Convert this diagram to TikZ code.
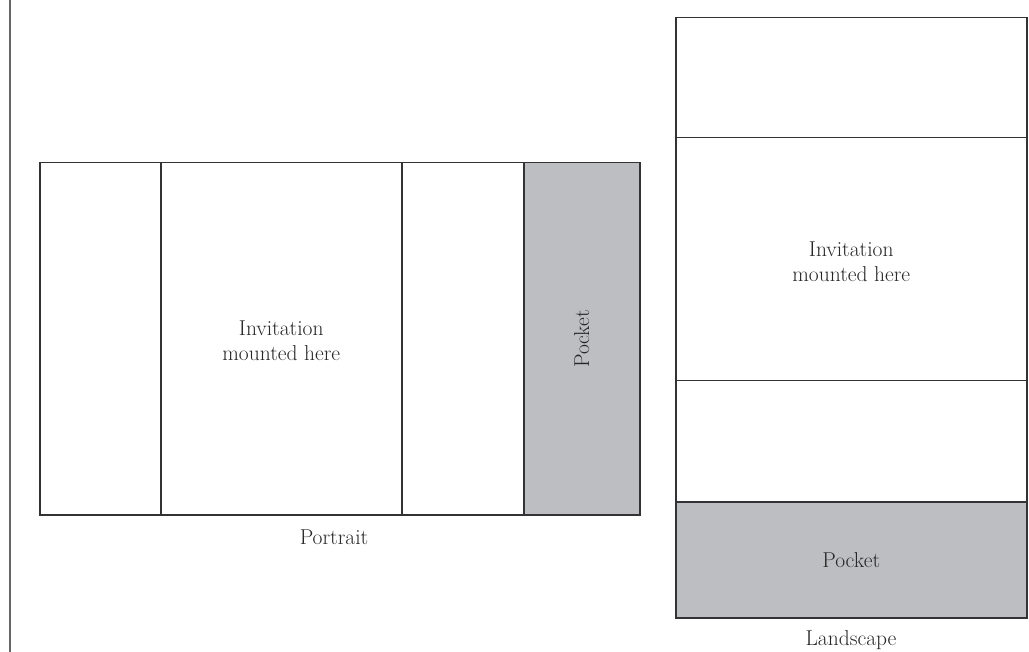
\documentclass[tikz,border=0pt]{standalone}
\usepackage{fontspec}
\definecolor{pocketgray}{HTML}{BDBEC2}
\definecolor{edge}{HTML}{333335}
\definecolor{sideline}{HTML}{666666}
\begin{document}
\begin{tikzpicture}[x=1pt,y=-1pt,
  panel/.style={draw=edge,line width=1.5pt},
  pocketpanel/.style={panel,fill=pocketgray},
  lbl/.style={font=\fontsize{21.5}{25}\selectfont,align=center,text=black!85},
  caption/.style={font=\fontsize{21.5}{25}\selectfont,text=black!85}]
\useasboundingbox (0,0) rectangle (1029,652);
\draw[sideline,line width=1.8pt] (10,0) -- (10,652);
% Portrait
\node[panel,minimum width=121pt,minimum height=352pt,inner sep=0pt,anchor=north west] (p1) at (39,162) {};
\node[panel,minimum width=241pt,minimum height=352pt,inner sep=0pt,anchor=north west] (p2) at (160,162) {};
\node[panel,minimum width=122pt,minimum height=352pt,inner sep=0pt,anchor=north west] (p3) at (401,162) {};
\node[pocketpanel,minimum width=116pt,minimum height=352pt,inner sep=0pt,anchor=north west] (p4) at (523,162) {};
\node[lbl] (pinv) at ([yshift=-2pt]p2.center) {Invitation\\mounted here};
\node[lbl,rotate=90] (ppock) at (p4.center) {Pocket};
\node[caption] (pcap) at (334,537) {Portrait};
% Landscape
\node[panel,minimum width=351pt,minimum height=120pt,inner sep=0pt,anchor=north west] (l1) at (675,17) {};
\node[panel,minimum width=351pt,minimum height=243pt,inner sep=0pt,anchor=north west] (l2) at (675,137) {};
\node[panel,minimum width=351pt,minimum height=121pt,inner sep=0pt,anchor=north west] (l3) at (675,380) {};
\node[pocketpanel,minimum width=351pt,minimum height=116pt,inner sep=0pt,anchor=north west] (l4) at (675,501) {};
\node[lbl] (linv) at ([yshift=-2pt]l2.center) {Invitation\\mounted here};
\node[lbl] (lpock) at (l4.center) {Pocket};
\node[caption] (lcap) at (851,640) {Landscape};
\end{tikzpicture}
\end{document}
